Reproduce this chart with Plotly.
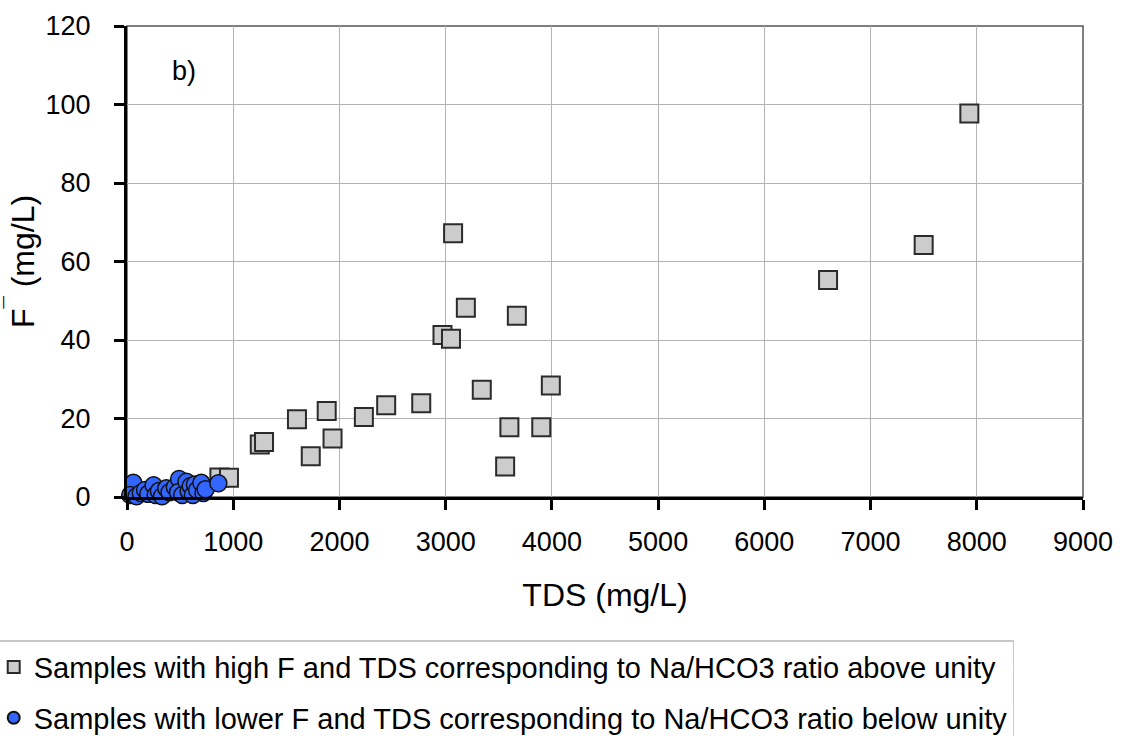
import plotly.graph_objects as go

# High F / TDS samples (Na/HCO3 > 1)
sq_tds = [870, 960, 1250, 1290, 1600, 1730, 1880, 1935, 2230, 2440, 2770, 2970,
          3050, 3070, 3190, 3340, 3560, 3600, 3670, 3900, 3990, 6600, 7500, 7930]
sq_f = [5.0, 4.9, 13.4, 14.0, 19.8, 10.4, 21.9, 14.9, 20.4, 23.4, 23.9, 41.3,
        40.3, 67.2, 48.2, 27.3, 7.8, 17.8, 46.2, 17.8, 28.4, 55.3, 64.2, 97.7]

# Lower F / TDS samples (Na/HCO3 < 1)
ci_tds = [60, 30, 90, 130, 170, 200, 250, 270, 300, 330, 370, 400, 450, 490,
          480, 520, 560, 580, 600, 620, 640, 660, 700, 720, 740, 860]
ci_f = [3.6, 0.5, 0.2, 1.0, 1.8, 0.8, 3.0, 0.5, 1.5, 0.2, 2.2, 1.2, 2.5, 4.6,
        1.2, 0.5, 3.9, 1.5, 2.8, 0.5, 3.2, 1.8, 3.6, 1.0, 2.0, 3.5]

x_ticks = list(range(0, 9001, 1000))
y_ticks = list(range(0, 121, 20))

font = "Liberation Sans, Arial, sans-serif"

fig = go.Figure()
fig.add_trace(go.Scatter(
    x=sq_tds, y=sq_f, mode="markers",
    name="Samples with high F and TDS corresponding to Na/HCO3 ratio above unity",
    marker=dict(symbol="square", size=18, color="#cccccc",
                line=dict(color="#2b2b2b", width=2)),
    cliponaxis=False, legendgroup="a"))
fig.add_trace(go.Scatter(
    x=ci_tds, y=ci_f, mode="markers",
    name="Samples with lower F and TDS corresponding to Na/HCO3 ratio below unity",
    marker=dict(symbol="circle", size=17, color="#3366ff",
                line=dict(color="#111111", width=1.5)),
    cliponaxis=False, legendgroup="b"))

fig.update_layout(
    width=1124, height=736,
    margin=dict(l=127, r=41, t=26, b=239, autoexpand=False),
    paper_bgcolor="white", plot_bgcolor="white",
    font=dict(family=font, size=27, color="black"),
    showlegend=True,
    legend=dict(x=-0.141, y=-0.304, xanchor="left", yanchor="top",
                bordercolor="#c8c8c8", borderwidth=1.5,
                font=dict(size=29), tracegroupgap=10,
                itemsizing="constant"),
    xaxis=dict(range=[0, 9000], tickvals=x_ticks, ticks="outside", ticklen=10,
               tickwidth=2.5, tickcolor="black", showline=True, linecolor="black",
               linewidth=3, showgrid=True, gridcolor="#b4b4b4", gridwidth=1,
               zeroline=False, ticklabelstandoff=9, automargin=False,
               title=dict(text="TDS (mg/L)", standoff=28)),
    yaxis=dict(range=[0, 120], tickvals=y_ticks, ticks="outside", ticklen=10,
               tickwidth=2.5, tickcolor="black", showline=True, linecolor="black",
               linewidth=3, showgrid=True, gridcolor="#b4b4b4", gridwidth=1,
               zeroline=False, automargin=False, ticklabelstandoff=18,
               title=dict(text="F<sup>¯</sup> (mg/L)", standoff=2)),
    shapes=[dict(type="rect", xref="paper", yref="paper", x0=0, x1=1, y0=0, y1=1,
                 line=dict(color="#555555", width=1.5), layer="below")],
    annotations=[dict(text="b)", xref="paper", yref="paper", x=0.06, y=0.905,
                      xanchor="center", yanchor="middle", showarrow=False,
                      font=dict(size=27))],
)

fig.write_html("out.html")
